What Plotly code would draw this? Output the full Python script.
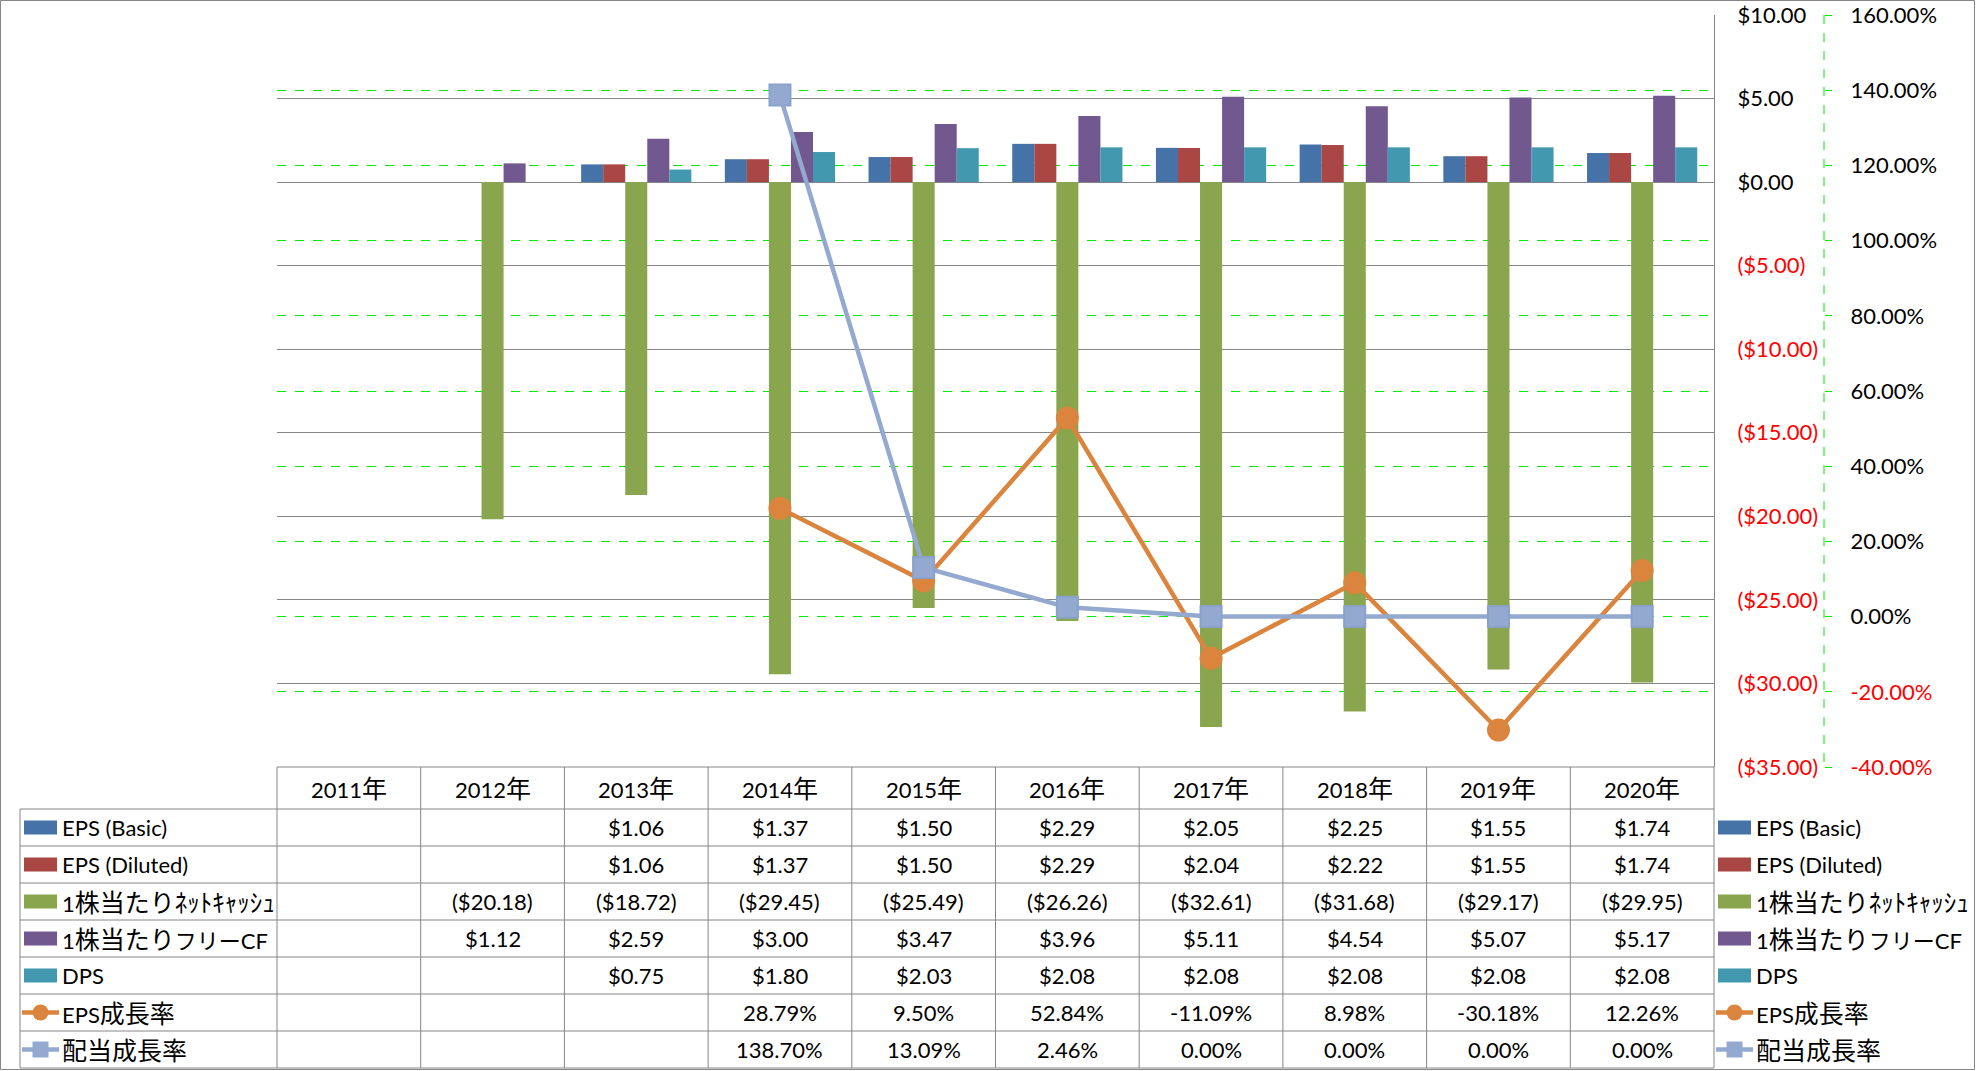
import plotly.graph_objects as go

W, H = 1976, 1071

years = ["2011年", "2012年", "2013年", "2014年", "2015年", "2016年", "2017年", "2018年", "2019年", "2020年"]
eps_basic = [None, None, 1.06, 1.37, 1.50, 2.29, 2.05, 2.25, 1.55, 1.74]
eps_diluted = [None, None, 1.06, 1.37, 1.50, 2.29, 2.04, 2.22, 1.55, 1.74]
net_cash = [None, -20.18, -18.72, -29.45, -25.49, -26.26, -32.61, -31.68, -29.17, -29.95]
free_cf = [None, 1.12, 2.59, 3.00, 3.47, 3.96, 5.11, 4.54, 5.07, 5.17]
dps = [None, None, 0.75, 1.80, 2.03, 2.08, 2.08, 2.08, 2.08, 2.08]
eps_growth = [None, None, None, 28.79, 9.50, 52.84, -11.09, 8.98, -30.18, 12.26]
div_growth = [None, None, None, 138.70, 13.09, 2.46, 0.00, 0.00, 0.00, 0.00]

names = ["EPS (Basic)", "EPS (Diluted)", "1株当たりﾈｯﾄｷｬｯｼｭ", "1株当たりフリーCF", "DPS", "EPS成長率", "配当成長率"]
colors = ["#4572A7", "#AA4643", "#89A54E", "#71588F", "#4198AF", "#DB843D", "#93A9CF"]

primary_ticks = [-35, -30, -25, -20, -15, -10, -5, 0, 5, 10]
secondary_ticks = [-40, -20, 0, 20, 40, 60, 80, 100, 120, 140, 160]

FONT = "Lato, 'Noto Sans CJK JP', sans-serif"
RED = "#FF0000"
GRID = "#868686"
GREEN = "rgb(0,235,0)"
FS = 22     # latin text size
FS_CJK = 25  # CJK glyph size


def money(v):
    return "(${:.2f})".format(-v) if v < 0 else "${:.2f}".format(v)


def pct(v):
    return "{:.2f}%".format(v)


def red_if_neg(v, s):
    return '<span style="color:%s">%s</span>' % (RED, s) if v < 0 else s


def cjk_markup(s):
    """Wrap CJK characters in a larger span (Excel-like mixed font sizes)."""
    out, buf, cur = [], "", None
    for ch in s:
        code = ord(ch)
        if 0x30A0 <= code <= 0x30FF:
            kind = 2  # full-width katakana (proportional, narrower in the original font)
        elif code > 0x2E80:
            kind = 1
        else:
            kind = 0
        if cur is None or kind == cur:
            buf += ch
        else:
            out.append((cur, buf))
            buf = ch
        cur = kind
    if buf:
        out.append((cur, buf))
    res = ""
    for k, b in out:
        if k == 1:
            res += '<span style="font-size:%dpx">%s</span>' % (FS_CJK, b)
        elif k == 2:
            res += '<span style="font-size:%dpx">%s</span>' % (FS_CJK - 3, b)
        else:
            res += b
    return res


# geometry (pixels)
PL, PR, PT, PB = 277, 1714, 15, 767
SEC_X = 1824
LEG_L = 20
ROW_TOP = 809
ROW_H = 37.0
NROWS = 7


def px(x):
    return x / W


def py(y):
    return 1 - y / H


fig = go.Figure()

bar_series = [eps_basic, eps_diluted, net_cash, free_cf, dps]
for i, s in enumerate(bar_series):
    fig.add_trace(go.Bar(x=years, y=s, name=names[i], marker=dict(color=colors[i], line=dict(width=0)),
                         showlegend=False))

fig.add_trace(go.Scatter(x=years, y=eps_growth, yaxis="y2", mode="lines+markers", name=names[5],
                         line=dict(color=colors[5], width=4.5),
                         marker=dict(symbol="circle", size=23, color=colors[5]), showlegend=False))
fig.add_trace(go.Scatter(x=years, y=div_growth, yaxis="y2", mode="lines+markers", name=names[6],
                         line=dict(color=colors[6], width=4.5),
                         marker=dict(symbol="square", size=21, color=colors[6],
                                     line=dict(color="#8AA2CB", width=2)), showlegend=False))

shapes = []
annotations = []

# secondary axis dashed line
shapes.append(dict(type="line", xref="paper", yref="paper", x0=px(SEC_X), x1=px(SEC_X), y0=py(PT), y1=py(PB),
                   line=dict(color=GREEN, width=1, dash="dash")))

# table grid
col_w = (PR - PL) / 10.0
row_lines = [ROW_TOP + i * ROW_H for i in range(NROWS + 1)]
shapes.append(dict(type="line", xref="paper", yref="paper", x0=px(PL), x1=px(PR), y0=py(PB), y1=py(PB),
                   line=dict(color=GRID, width=1)))
for yl in row_lines:
    shapes.append(dict(type="line", xref="paper", yref="paper", x0=px(LEG_L), x1=px(PR), y0=py(yl), y1=py(yl),
                       line=dict(color=GRID, width=1)))
for c in range(11):
    xl = PL + c * col_w
    shapes.append(dict(type="line", xref="paper", yref="paper", x0=px(xl), x1=px(xl), y0=py(PB),
                       y1=py(row_lines[-1]), line=dict(color=GRID, width=1)))
shapes.append(dict(type="line", xref="paper", yref="paper", x0=px(LEG_L), x1=px(LEG_L), y0=py(ROW_TOP),
                   y1=py(row_lines[-1]), line=dict(color=GRID, width=1)))
# outer border
shapes.append(dict(type="rect", xref="paper", yref="paper", x0=px(0.5), x1=px(W - 1.5), y0=py(0.5),
                   y1=py(H - 1.5), line=dict(color=GRID, width=1)))

# header
for yr in years:
    annotations.append(dict(x=yr, xref="x", y=py((PB + ROW_TOP) / 2), yref="paper", yanchor="middle",
                            xanchor="center", text=cjk_markup(yr), showarrow=False,
                            font=dict(size=FS, color="black", family=FONT)))

all_series = bar_series + [eps_growth, div_growth]
fmts = [money] * 5 + [pct, pct]
for r, (s, f) in enumerate(zip(all_series, fmts)):
    yc = ROW_TOP + (r + 0.5) * ROW_H
    for yr, v in zip(years, s):
        if v is None:
            continue
        annotations.append(dict(x=yr, xref="x", y=py(yc), yref="paper", yanchor="middle", xanchor="center",
                                text=f(v), showarrow=False, font=dict(size=FS, color="black", family=FONT)))
    # legend keys (left table column and right legend)
    for sx0, sx1, tx in [(24, 57, 60), (1718, 1751, 1754)]:
        if r < 5:
            shapes.append(dict(type="rect", xref="paper", yref="paper", x0=px(sx0), x1=px(sx1),
                               y0=py(yc - 7), y1=py(yc + 7), line=dict(width=0), fillcolor=colors[r]))
        else:
            shapes.append(dict(type="line", xref="paper", yref="paper", x0=px(sx0 - 2), x1=px(sx1 + 2),
                               y0=py(yc), y1=py(yc), line=dict(color=colors[r], width=4.5)))
            cx = (sx0 + sx1) / 2
            shp = "circle" if r == 5 else "rect"
            shapes.append(dict(type=shp, xref="paper", yref="paper", x0=px(cx - 8), x1=px(cx + 8),
                               y0=py(yc - 8), y1=py(yc + 8), line=dict(width=0), fillcolor=colors[r]))
        annotations.append(dict(x=px(tx), xref="paper", xanchor="left", y=py(yc), yref="paper", yanchor="middle",
                                text=cjk_markup(names[r]), showarrow=False,
                                font=dict(size=FS, color="black", family=FONT)))

fig.update_layout(
    template="none",
    width=W, height=H, autosize=False,
    margin=dict(l=0, r=0, t=0, b=0, pad=0),
    paper_bgcolor="white", plot_bgcolor="white",
    barmode="group", bargap=0.233, bargroupgap=0,
    font=dict(family=FONT, size=FS, color="black"),
    xaxis=dict(domain=[px(PL), px(PR)], type="category", range=[-0.5, 9.5], showticklabels=False,
               showgrid=False, zeroline=False, showline=False, ticks="", automargin=False),
    yaxis=dict(domain=[py(PB), py(PT)], side="right", range=[-35, 10], tickvals=primary_ticks,
               ticktext=[red_if_neg(v, money(v)) for v in primary_ticks],
               showgrid=True, gridcolor=GRID, gridwidth=1, zeroline=False, automargin=False,
               showline=True, linecolor=GRID, linewidth=1, ticks="", ticklabelstandoff=18,
               tickfont=dict(size=FS, family=FONT, color="black")),
    yaxis2=dict(overlaying="y", side="right", anchor="free", position=px(SEC_X), range=[-40, 160],
                tickvals=secondary_ticks, ticktext=[red_if_neg(v, pct(v)) for v in secondary_ticks],
                showgrid=True, gridcolor=GREEN, gridwidth=1, griddash="dash", zeroline=False,
                showline=False, ticks="outside", ticklen=7, tickcolor=GREEN, tickwidth=1, automargin=False,
                ticklabelstandoff=14, tickfont=dict(size=FS, family=FONT, color="black")),
    shapes=shapes,
    annotations=annotations,
)

fig.write_html("out.html", config={"displayModeBar": False},
               post_script="document.body.style.margin='0';document.body.style.overflow='hidden';")
